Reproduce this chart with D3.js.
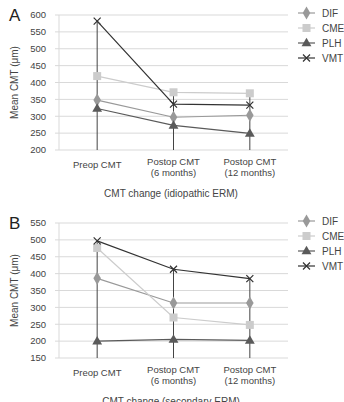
<!DOCTYPE html>
<html>
<head>
<meta charset="utf-8">
<script src="https://cdn.jsdelivr.net/npm/d3@7"></script>
<style>
  body { margin: 0; background: #fff; }
  text { font-family: "Liberation Sans", Arial, sans-serif; }
</style>
</head>
<body>
<div id="chart-area"></div>
<script>
var categories = ["Preop CMT", "Postop CMT\n(6 months)", "Postop CMT\n(12 months)"];
var seriesNames = ["DIF", "CME", "PLH", "VMT"];

// panel A - idiopathic ERM
var difA = [348, 297, 303];
var cmeA = [419, 371, 368];
var plhA = [323, 273, 249];
var vmtA = [582, 336, 333];
var ticksA = [200, 250, 300, 350, 400, 450, 500, 550, 600];

// panel B - secondary ERM
var difB = [386, 313, 313];
var cmeB = [476, 270, 248];
var plhB = [200, 205, 202];
var vmtB = [497, 413, 385];
var ticksB = [150, 200, 250, 300, 350, 400, 450, 500, 550];

var colors = {DIF: "#999999", CME: "#cccccc", PLH: "#5a5a5a", VMT: "#333333"};

var svg = d3.select("#chart-area")
    .append("svg")
    .attr("width", 344)
    .attr("height", 402);

function drawMarker(g, name, cx, cy) {
    var c = colors[name];
    if (name == "DIF") {
        g.append("path").attr("d", d3.symbol(d3.symbolDiamond, 50)())
            .attr("transform", "translate(" + cx + "," + cy + ")").attr("fill", c);
    } else if (name == "CME") {
        g.append("rect").attr("x", cx - 4).attr("y", cy - 4)
            .attr("width", 8).attr("height", 8).attr("fill", c);
    } else if (name == "PLH") {
        g.append("path").attr("d", d3.symbol(d3.symbolTriangle, 42)())
            .attr("transform", "translate(" + cx + "," + (cy + 0.5) + ")").attr("fill", c);
    } else {
        g.append("path").attr("d", "M-3.5,-3.5L3.5,3.5M-3.5,3.5L3.5,-3.5")
            .attr("transform", "translate(" + cx + "," + cy + ")")
            .attr("stroke", c).attr("stroke-width", 1.2).attr("fill", "none");
    }
}

function panel(top, letter, series, ticks, title) {
    var g = svg.append("g").attr("transform", "translate(0," + top + ")");
    var height = 135;
    var left = 59, right = 288;

    var x = d3.scalePoint().domain(categories).range([left, right]).padding(0.5);
    var y = d3.scaleLinear().domain([ticks[0], ticks[ticks.length - 1]]).range([height, 0]);

    // gridlines + ticks
    g.selectAll(".grid").data(ticks).enter().append("line")
        .attr("x1", left - 4).attr("x2", right)
        .attr("y1", function(d){ return y(d); }).attr("y2", function(d){ return y(d); })
        .attr("stroke", "#d9d9d9").attr("stroke-width", 1);

    g.append("line").attr("x1", left).attr("x2", left).attr("y1", 0).attr("y2", height)
        .attr("stroke", "#d9d9d9");

    g.selectAll(".ytick").data(ticks).enter().append("text")
        .attr("x", 46).attr("y", function(d){ return y(d); })
        .attr("dy", "0.35em").attr("text-anchor", "end")
        .attr("font-size", "9.5px").attr("fill", "#444")
        .text(function(d){ return d; });

    g.append("text")
        .attr("transform", "translate(18," + (height / 2) + ") rotate(-90)")
        .attr("text-anchor", "middle").attr("font-size", "10px").attr("fill", "#444")
        .text("Mean CMT (\u03bcm)");

    g.append("text").attr("x", 9).attr("y", 6).attr("font-size", "17px").attr("fill", "#222")
        .text(letter);

    // drop lines from highest point to axis
    categories.forEach(function(c, i) {
        var hi = d3.max(series, function(s){ return s.values[i]; });
        g.append("line").attr("x1", x(c)).attr("x2", x(c))
            .attr("y1", y(hi)).attr("y2", height)
            .attr("stroke", "#444").attr("stroke-width", 1);
    });

    var line = d3.line().x(function(d, i){ return x(categories[i]); }).y(function(d){ return y(d); });

    series.forEach(function(s) {
        g.append("path").datum(s.values).attr("d", line)
            .attr("fill", "none").attr("stroke", colors[s.name]).attr("stroke-width", 1.2);
    });
    series.forEach(function(s) {
        s.values.forEach(function(v, i) {
            drawMarker(g, s.name, x(categories[i]), y(v));
        });
    });

    // category labels
    categories.forEach(function(c) {
        var parts = c.split("\n");
        var t = g.append("text").attr("text-anchor", "middle").attr("font-size", "9.5px").attr("fill", "#444");
        var y0 = parts.length == 1 ? height + 18 : height + 15;
        parts.forEach(function(p, k) {
            t.append("tspan").attr("x", x(c)).attr("y", y0 + k * 11).text(p);
        });
    });

    g.append("text").attr("x", 171).attr("y", height + 47)
        .attr("text-anchor", "middle").attr("font-size", "10px").attr("fill", "#444")
        .text(title);

    // legend
    seriesNames.forEach(function(n, i) {
        var ly = -2 + i * 15;
        g.append("line").attr("x1", 298).attr("x2", 315).attr("y1", ly).attr("y2", ly)
            .attr("stroke", colors[n]).attr("stroke-width", 1.2);
        drawMarker(g, n, 306.5, ly);
        g.append("text").attr("x", 322).attr("y", ly).attr("dy", "0.35em")
            .attr("font-size", "10px").attr("fill", "#444").text(n);
    });
}

panel(15, "A", [
    {name: "DIF", values: difA},
    {name: "CME", values: cmeA},
    {name: "PLH", values: plhA},
    {name: "VMT", values: vmtA}
], ticksA, "CMT change (idiopathic ERM)");

panel(223, "B", [
    {name: "DIF", values: difB},
    {name: "CME", values: cmeB},
    {name: "PLH", values: plhB},
    {name: "VMT", values: vmtB}
], ticksB, "CMT change (secondary ERM)");
</script>
</body>
</html>
